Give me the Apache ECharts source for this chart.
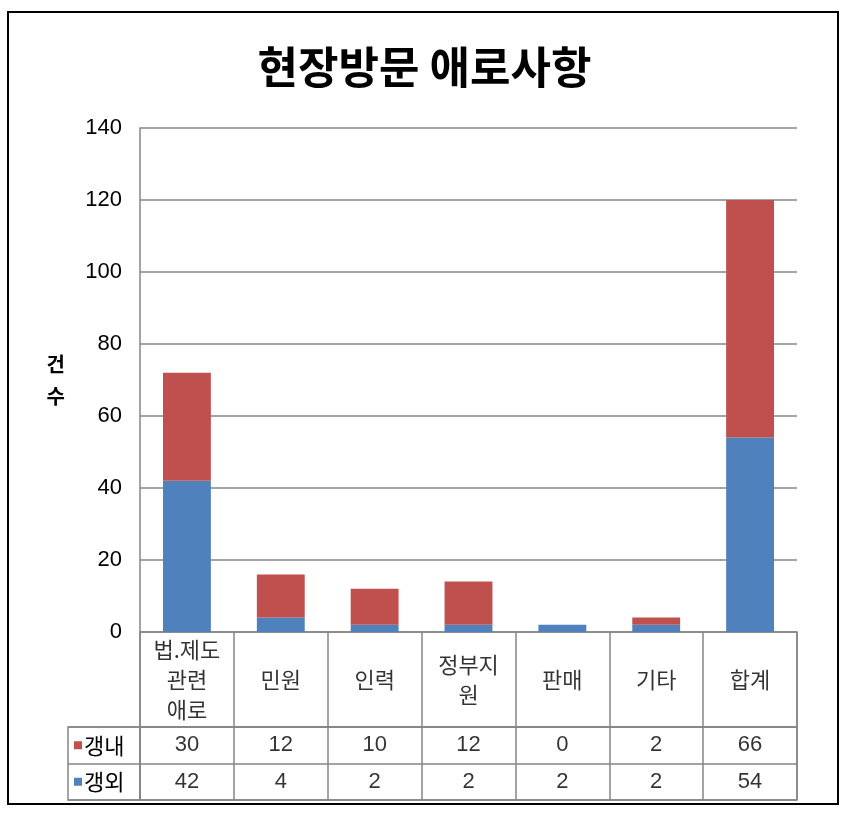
<!DOCTYPE html>
<html><head><meta charset="utf-8">
<script src="https://cdn.jsdelivr.net/npm/echarts@6/dist/echarts.min.js"></script>
<style>html,body{margin:0;padding:0;background:#fff}#c{width:849px;height:822px}</style>
</head><body><div id="c"></div>
<script>
const title = '현장방문 애로사항';
const categories = ['법.제도\n관련\n애로', '민원', '인력', '정부지\n원', '판매', '기타', '합계'];
const seriesNames = ['갱내', '갱외'];
const inner = [30, 12, 10, 12, 0, 2, 66];   // 갱내
const outer = [42, 4, 2, 2, 2, 2, 54];      // 갱외
const yTicks = { min: 0, max: 140, interval: 20 };
const colors = { '갱내': '#C0504D', '갱외': '#4F81BD' };

const FONT = 'Liberation Sans, Noto Sans CJK KR, sans-serif';
const KFONT = 'Noto Sans CJK KR, sans-serif';
const GRAY = '#868686';

const chart = echarts.init(document.getElementById('c'));

const tableData = [];
categories.forEach((c, i) => {
  tableData.push([c, '갱내', inner[i]]);
  tableData.push([c, '갱외', outer[i]]);
});

chart.setOption({
  animation: false,
  title: {
    text: title, left: 'center', top: 40,
    textStyle: { fontFamily: KFONT, fontSize: 44, fontWeight: 'bold', color: '#000' }
  },
  graphic: [{
    type: 'rect', shape: { x: 8, y: 12, width: 830, height: 792 },
    style: { fill: 'none', stroke: '#000', lineWidth: 2 }, silent: true
  }],
  grid: [
    { left: 140, right: 52, top: 128, height: 504 },
    { left: 140, right: 52, top: 632, height: 95, show: true, borderColor: GRAY, borderWidth: 1.5 },
    { left: 140, right: 52, top: 727, height: 73, show: true, borderColor: GRAY, borderWidth: 1.5 },
    { left: 68, width: 72, top: 727, height: 73, show: true, borderColor: GRAY, borderWidth: 1.5 }
  ],
  xAxis: [
    { gridIndex: 0, type: 'category', data: categories, axisLine: { show: false }, axisTick: { show: false }, axisLabel: { show: false } },
    { gridIndex: 1, type: 'category', data: categories, axisLine: { show: false }, axisTick: { show: false }, axisLabel: { show: false },
      splitLine: { show: true, interval: 0, lineStyle: { color: GRAY, width: 1.5 } } },
    { gridIndex: 2, type: 'category', data: categories, axisLine: { show: false }, axisTick: { show: false }, axisLabel: { show: false },
      splitLine: { show: true, interval: 0, lineStyle: { color: GRAY, width: 1.5 } } },
    { gridIndex: 3, type: 'category', data: [''], show: false }
  ],
  yAxis: [
    { gridIndex: 0, type: 'value', min: yTicks.min, max: yTicks.max, interval: yTicks.interval,
      axisLine: { show: true, lineStyle: { color: GRAY, width: 1.5 } }, axisTick: { show: false },
      axisLabel: { margin: 18, fontFamily: FONT, fontSize: 22, color: '#000' },
      splitLine: { lineStyle: { color: GRAY, width: 1.5 } },
      name: '건\n수', nameLocation: 'middle', nameRotate: 0, nameGap: 75,
      nameTextStyle: { fontFamily: KFONT, fontSize: 20, fontWeight: 'bold', color: '#000', lineHeight: 32 } },
    { gridIndex: 1, type: 'value', min: 0, max: 2, show: false },
    { gridIndex: 2, type: 'category', data: seriesNames, inverse: true, axisLine: { show: false }, axisTick: { show: false }, axisLabel: { show: false },
      splitLine: { show: true, interval: 0, lineStyle: { color: GRAY, width: 1.5 } } },
    { gridIndex: 3, type: 'category', data: seriesNames, inverse: true, axisLine: { show: false }, axisTick: { show: false },
      splitLine: { show: true, interval: 0, lineStyle: { color: GRAY, width: 1.5 } },
      axisLabel: { inside: true, margin: 6, formatter: v => '{' + (v === '갱내' ? 'r' : 'b') + '|}{t|' + v + '}',
        rich: {
          r: { width: 8, height: 8, backgroundColor: colors['갱내'] },
          b: { width: 8, height: 8, backgroundColor: colors['갱외'] },
          t: { fontFamily: KFONT, fontSize: 22, color: '#000', padding: [0, 0, 0, 2] }
        } } }
  ],
  series: [
    { name: '갱외', type: 'bar', stack: 's', data: outer, barCategoryGap: '49%', itemStyle: { color: colors['갱외'] }, xAxisIndex: 0, yAxisIndex: 0 },
    { name: '갱내', type: 'bar', stack: 's', data: inner, itemStyle: { color: colors['갱내'] }, xAxisIndex: 0, yAxisIndex: 0 },
    { type: 'scatter', xAxisIndex: 1, yAxisIndex: 1, symbolSize: 1, itemStyle: { color: 'rgba(0,0,0,0)' },
      data: categories.map(c => [c, 1]),
      label: { show: true, position: 'inside', formatter: p => p.value[0], fontFamily: KFONT, fontSize: 22, lineHeight: 30, color: '#000' } },
    { type: 'scatter', xAxisIndex: 2, yAxisIndex: 2, symbolSize: 1, itemStyle: { color: 'rgba(0,0,0,0)' },
      data: tableData,
      label: { show: true, position: 'inside', formatter: p => String(p.value[2]), fontFamily: FONT, fontSize: 22, color: '#000' } }
  ]
});
</script></body></html>
